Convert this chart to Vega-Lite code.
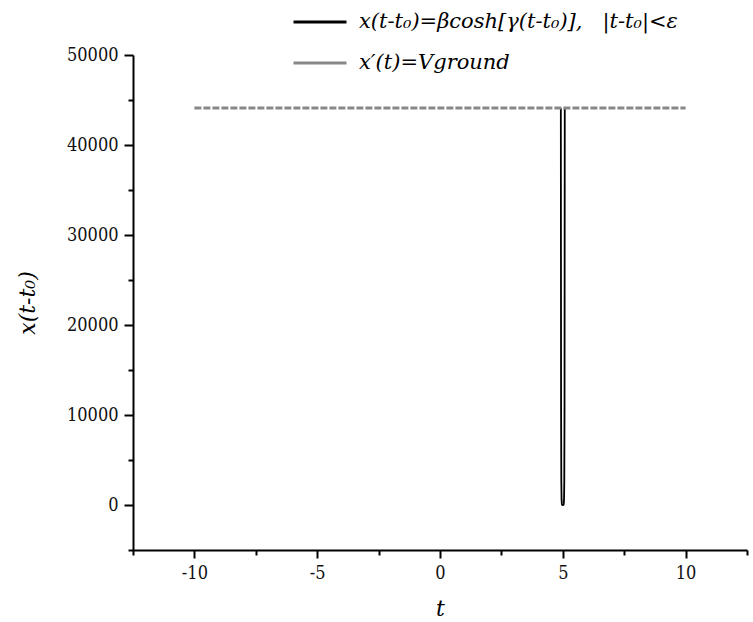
{
  "$schema": "https://vega.github.io/schema/vega-lite/v6.json",
  "width": 614,
  "height": 495,
  "autosize": {"type": "none"},
  "padding": {"left": 133, "top": 55, "right": 6, "bottom": 72},
  "background": "white",
  "config": {"view": {"stroke": null}, "font": "DejaVu Serif Condensed", "axis": {"labelOverlap": false}},
  "datasets": {
    "curve": [
      {"t": 4.92, "x": 44100, "order": 1, "series": "x(t-t₀)=βcosh[γ(t-t₀)],\u00a0\u00a0\u00a0|t-t₀|<ε"},
      {"t": 4.93, "x": 10660, "order": 2, "series": "x(t-t₀)=βcosh[γ(t-t₀)],\u00a0\u00a0\u00a0|t-t₀|<ε"},
      {"t": 4.94, "x": 2577, "order": 3, "series": "x(t-t₀)=βcosh[γ(t-t₀)],\u00a0\u00a0\u00a0|t-t₀|<ε"},
      {"t": 4.95, "x": 623, "order": 4, "series": "x(t-t₀)=βcosh[γ(t-t₀)],\u00a0\u00a0\u00a0|t-t₀|<ε"},
      {"t": 4.96, "x": 150, "order": 5, "series": "x(t-t₀)=βcosh[γ(t-t₀)],\u00a0\u00a0\u00a0|t-t₀|<ε"},
      {"t": 4.97, "x": 36, "order": 6, "series": "x(t-t₀)=βcosh[γ(t-t₀)],\u00a0\u00a0\u00a0|t-t₀|<ε"},
      {"t": 4.98, "x": 9, "order": 7, "series": "x(t-t₀)=βcosh[γ(t-t₀)],\u00a0\u00a0\u00a0|t-t₀|<ε"},
      {"t": 5.0, "x": 1, "order": 8, "series": "x(t-t₀)=βcosh[γ(t-t₀)],\u00a0\u00a0\u00a0|t-t₀|<ε"},
      {"t": 5.02, "x": 9, "order": 9, "series": "x(t-t₀)=βcosh[γ(t-t₀)],\u00a0\u00a0\u00a0|t-t₀|<ε"},
      {"t": 5.03, "x": 36, "order": 10, "series": "x(t-t₀)=βcosh[γ(t-t₀)],\u00a0\u00a0\u00a0|t-t₀|<ε"},
      {"t": 5.04, "x": 150, "order": 11, "series": "x(t-t₀)=βcosh[γ(t-t₀)],\u00a0\u00a0\u00a0|t-t₀|<ε"},
      {"t": 5.05, "x": 623, "order": 12, "series": "x(t-t₀)=βcosh[γ(t-t₀)],\u00a0\u00a0\u00a0|t-t₀|<ε"},
      {"t": 5.06, "x": 2577, "order": 13, "series": "x(t-t₀)=βcosh[γ(t-t₀)],\u00a0\u00a0\u00a0|t-t₀|<ε"},
      {"t": 5.07, "x": 10660, "order": 14, "series": "x(t-t₀)=βcosh[γ(t-t₀)],\u00a0\u00a0\u00a0|t-t₀|<ε"},
      {"t": 5.08, "x": 44100, "order": 15, "series": "x(t-t₀)=βcosh[γ(t-t₀)],\u00a0\u00a0\u00a0|t-t₀|<ε"}
    ],
    "ground": [
      {"t": -10, "x": 44100, "order": 1, "series": "x′(t)=Vground"},
      {"t": 10, "x": 44100, "order": 2, "series": "x′(t)=Vground"}
    ]
  },
  "resolve": {"axis": {"x": "independent", "y": "independent"}},
  "layer": [
    {
      "data": {"name": "curve"},
      "mark": {"type": "line", "strokeWidth": 1.8, "clip": false},
      "encoding": {
        "x": {
          "field": "t", "type": "quantitative",
          "scale": {"domain": [-12.5, 12.5], "nice": false, "zero": false},
          "axis": {
            "orient": "bottom",
            "title": "t",
            "titleFont": "DejaVu Serif", "titleFontStyle": "italic", "titleFontWeight": "normal",
            "titleFontSize": 22, "titleColor": "black", "titlePadding": 16,
            "values": [-10, -5, 0, 5, 10],
            "labelExpr": "replace(datum.label, '−', '-')",
            "labelFont": "DejaVu Serif Condensed", "labelFontSize": 18, "labelColor": "#111",
            "labelPadding": 6, "labelFlush": false, "labelOverlap": false, "labelBound": false,
            "tickSize": 8,
            "tickColor": "black", "tickWidth": 2,
            "domainColor": "black", "domainWidth": 2,
            "grid": false
          }
        },
        "y": {
          "field": "x", "type": "quantitative",
          "scale": {"domain": [-5000, 50000], "nice": false, "zero": false},
          "axis": {
            "orient": "left",
            "title": "x(t-t₀)",
            "titleFont": "DejaVu Serif", "titleFontStyle": "italic", "titleFontWeight": "normal",
            "titleFontSize": 22, "titleColor": "black", "titlePadding": 27,
            "values": [0, 10000, 20000, 30000, 40000, 50000],
            "format": "d",
            "labelFont": "DejaVu Serif Condensed", "labelFontSize": 18, "labelColor": "#111",
            "labelPadding": 6, "labelFlush": false, "labelOverlap": false,
            "tickSize": 9,
            "tickColor": "black", "tickWidth": 2,
            "domainColor": "black", "domainWidth": 2,
            "grid": false
          }
        },
        "order": {"field": "order", "type": "quantitative"},
        "color": {
          "field": "series", "type": "nominal",
          "scale": {
            "domain": ["x(t-t₀)=βcosh[γ(t-t₀)],\u00a0\u00a0\u00a0|t-t₀|<ε", "x′(t)=Vground"],
            "range": ["black", "#888888"]
          },
          "legend": {
            "title": null,
            "orient": "none",
            "legendX": 159,
            "legendY": -61,
            "padding": 0,
            "symbolType": "stroke",
            "symbolSize": 2809,
            "symbolStrokeWidth": 3,
            "symbolDash": [1, 0],
            "labelFont": "DejaVu Serif",
            "labelFontStyle": "italic",
            "labelFontSize": 21,
            "labelColor": "black",
            "labelLimit": 0,
            "labelOffset": 11,
            "rowPadding": 3
          }
        }
      }
    },
    {
      "data": {"name": "ground"},
      "mark": {"type": "line", "strokeWidth": 3, "strokeDash": [7, 2]},
      "encoding": {
        "x": {
          "field": "t", "type": "quantitative",
          "axis": {
            "orient": "bottom", "title": null, "labels": false, "domain": false, "grid": false,
            "values": [-12.5, -7.5, -2.5, 2.5, 7.5, 12.5],
            "tickSize": 5, "tickColor": "black", "tickWidth": 2
          }
        },
        "y": {
          "field": "x", "type": "quantitative",
          "axis": {
            "orient": "left", "title": null, "labels": false, "domain": false, "grid": false,
            "values": [-5000, 5000, 15000, 25000, 35000, 45000],
            "tickSize": 5, "tickColor": "black", "tickWidth": 2
          }
        },
        "order": {"field": "order", "type": "quantitative"},
        "color": {"field": "series", "type": "nominal"}
      }
    }
  ]
}
